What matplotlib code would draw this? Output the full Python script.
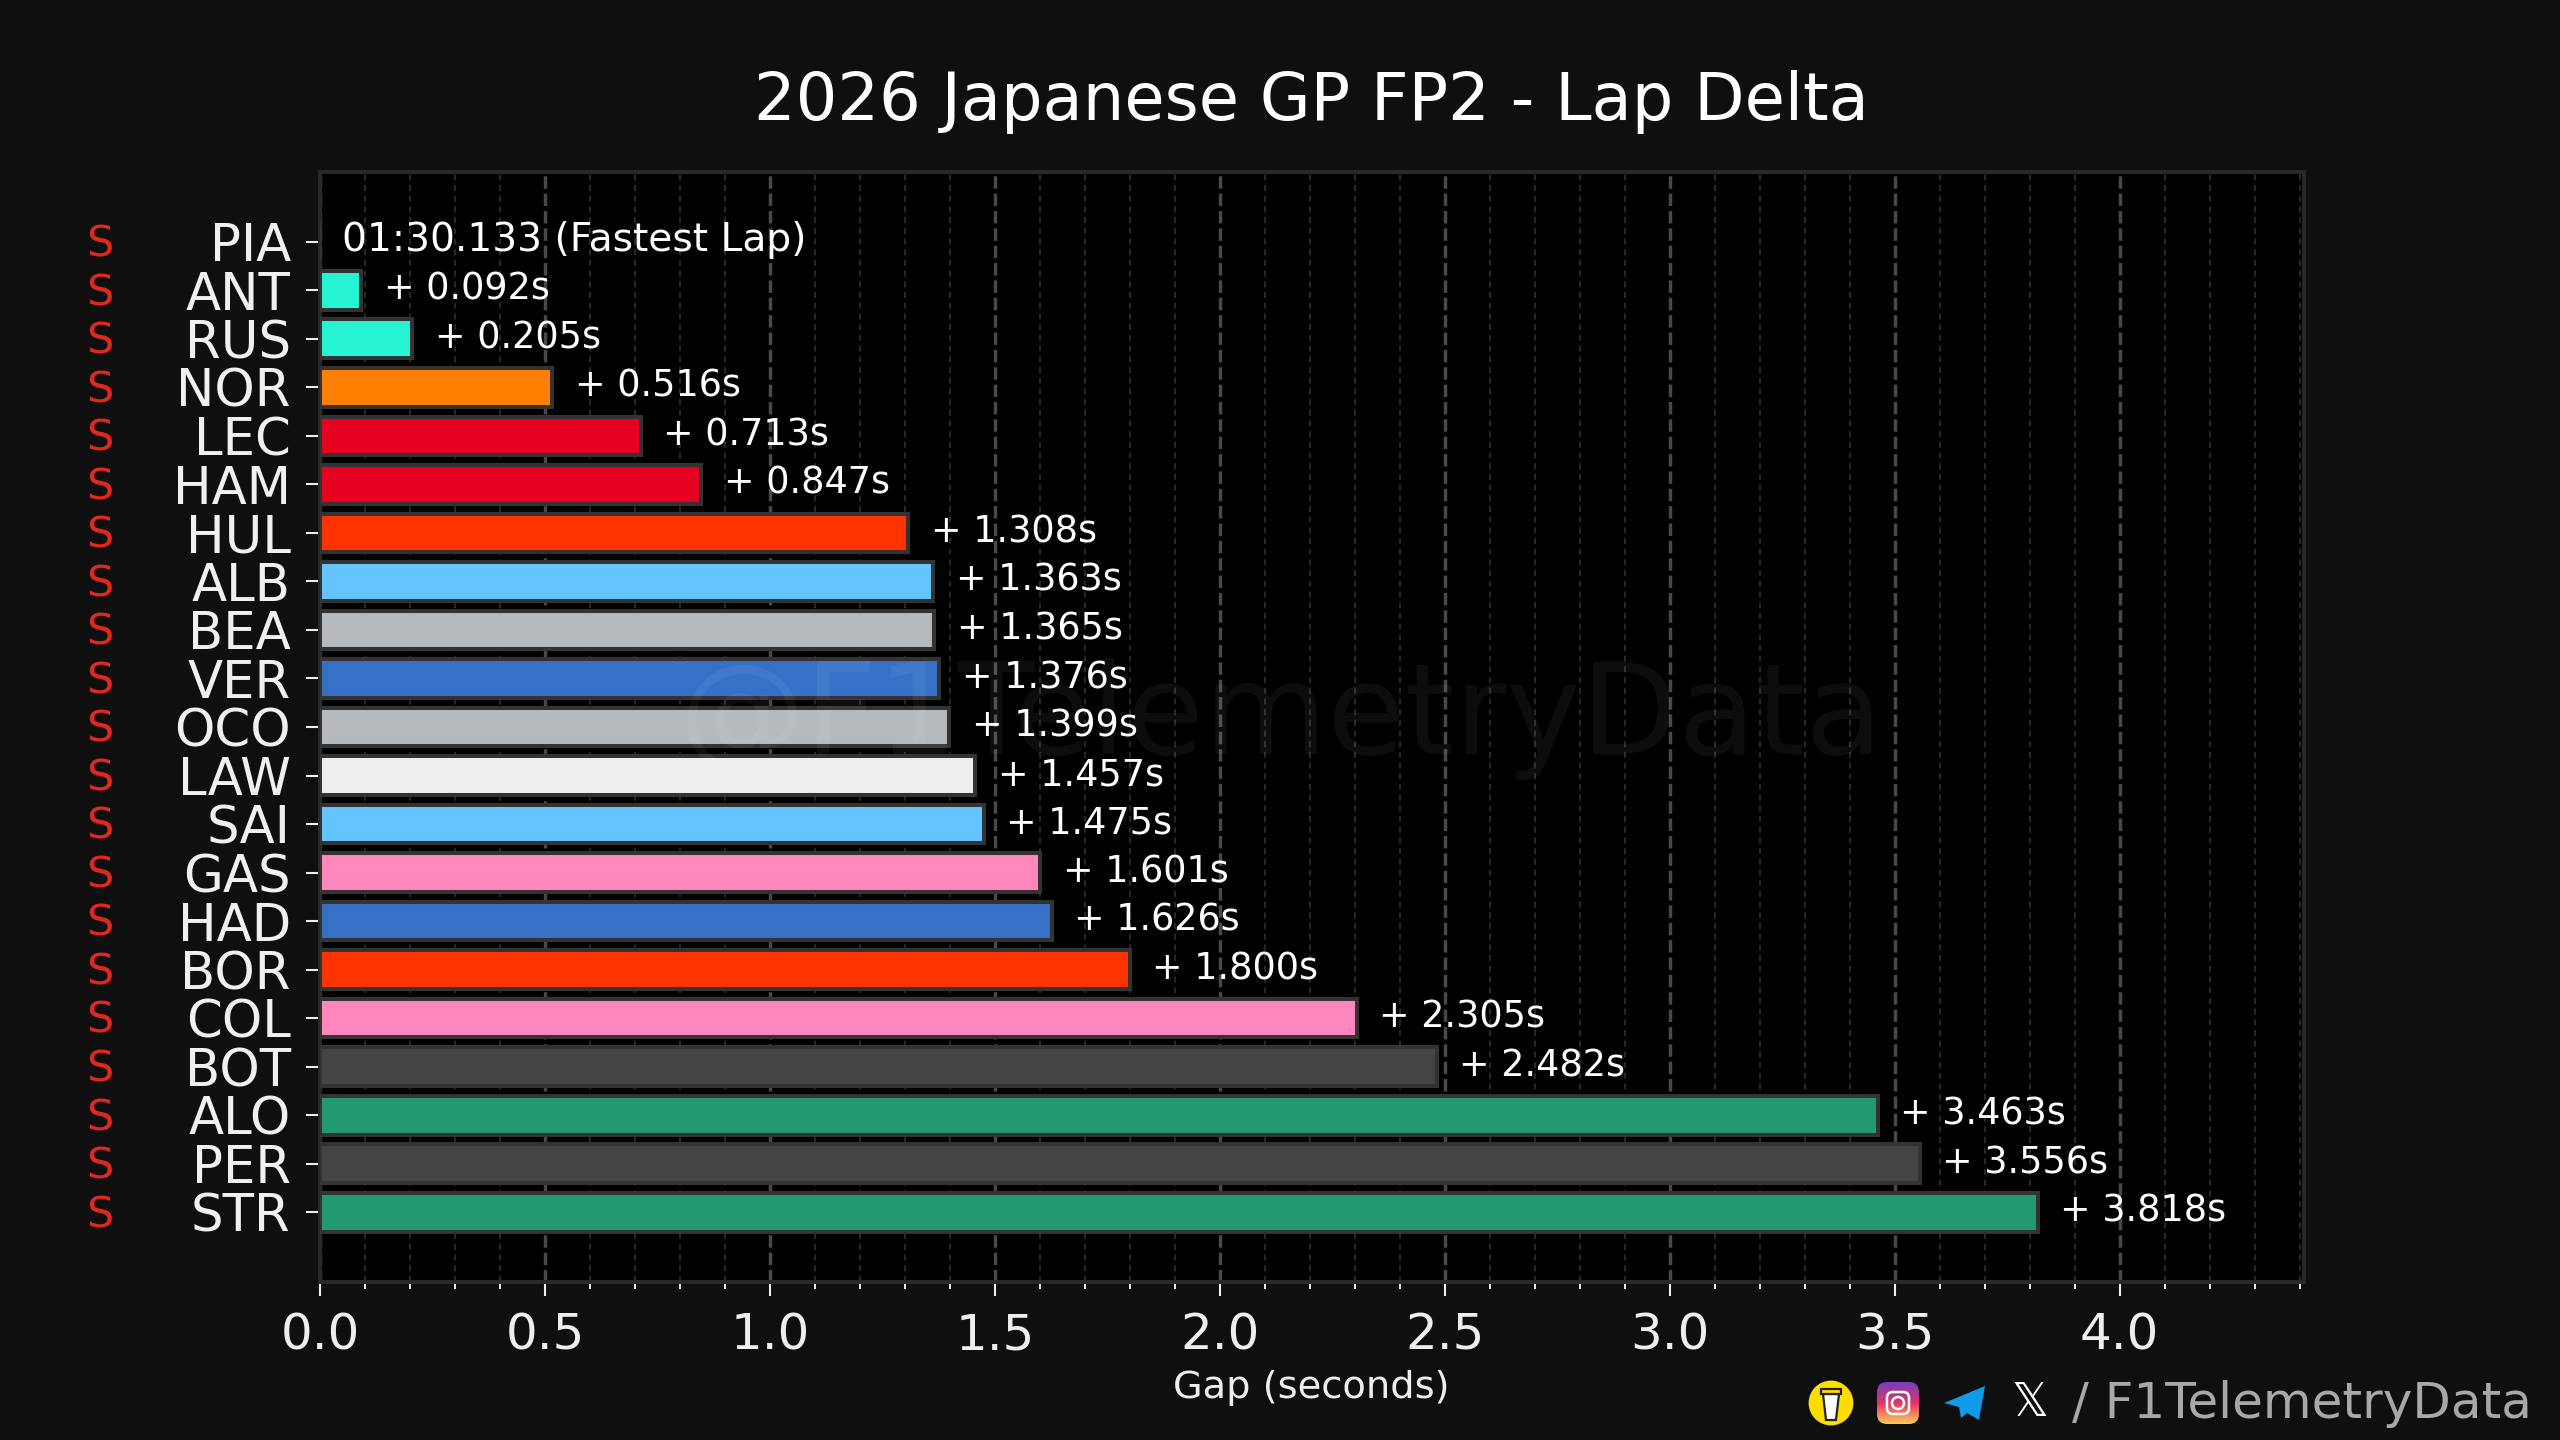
import numpy as np
import matplotlib
matplotlib.use('Agg')
import matplotlib.pyplot as plt
from matplotlib.patches import Circle, FancyBboxPatch, Polygon, Rectangle
from matplotlib.ticker import MultipleLocator

drivers = ['PIA', 'ANT', 'RUS', 'NOR', 'LEC', 'HAM', 'HUL', 'ALB', 'BEA', 'VER', 'OCO',
           'LAW', 'SAI', 'GAS', 'HAD', 'BOR', 'COL', 'BOT', 'ALO', 'PER', 'STR']
gaps = [0.0, 0.092, 0.205, 0.516, 0.713, 0.847, 1.308, 1.363, 1.365, 1.376, 1.399,
        1.457, 1.475, 1.601, 1.626, 1.800, 2.305, 2.482, 3.463, 3.556, 3.818]
colors = ['#FF8000', '#27F4D2', '#27F4D2', '#FF8000', '#E80020', '#E80020', '#FF3300',
          '#64C4FF', '#B6BABD', '#3671C6', '#B6BABD', '#EEEEEE', '#64C4FF', '#FF87BC',
          '#3671C6', '#FF3300', '#FF87BC', '#444444', '#229971', '#444444', '#229971']
compounds = ['S'] * 21
fastest_lap = '01:30.133 (Fastest Lap)'
title = '2026 Japanese GP FP2 - Lap Delta'

plt.rcParams['font.family'] = ['DejaVu Sans']
bg = '#0f0f0f'
W, H = 2560, 1440

fig = plt.figure(figsize=(12.8, 7.2), dpi=200, facecolor=bg)
ax = fig.add_axes([320/W, 1-1282/H, (2304-320)/W, (1282-172)/H], facecolor='black')

y = np.arange(len(drivers))
ax.barh(y, gaps, height=0.8, color=colors, edgecolor='#333333', linewidth=1.45, zorder=3)

ax.set_xlim(0, 4.41)
ax.set_ylim(len(drivers)-1+1.44, -1.44)
ax.xaxis.set_major_locator(MultipleLocator(0.5))
ax.xaxis.set_minor_locator(MultipleLocator(0.1))
ax.set_yticks(y)
ax.set_yticklabels(drivers, fontsize=18.5, color='#f0f0f0')
ax.tick_params(axis='y', length=5, width=0.75, color='#eeeeee', pad=5.5)
ax.tick_params(axis='x', which='major', length=5, width=0.75, color='#eeeeee',
               labelsize=18, labelcolor='#eeeeee', pad=5.5)
ax.tick_params(axis='x', which='minor', length=2.6, width=0.7, color='#eeeeee')
ax.grid(axis='x', which='major', color='#484848', linewidth=1.25, linestyle=(0, (3.6, 1.4)), zorder=1)
ax.grid(axis='x', which='minor', color='#333333', linewidth=0.55, linestyle=(0, (4, 3)), zorder=1)
for s in ax.spines.values():
    s.set_color('#2a2a2a')
    s.set_linewidth(1.4)

for i, (g, c) in enumerate(zip(gaps, compounds)):
    if i == 0:
        ax.text(0.05, i-0.03, fastest_lap, color='white', fontsize=14.1, va='center', zorder=5)
    else:
        ax.text(g+0.05, i-0.02, '+ {:.3f}s'.format(g), color='white', fontsize=13.2, va='center', zorder=5)
    ax.text(-0.49, i+0.06, c, color='#e0281e', fontsize=15.5, ha='center', va='center', clip_on=False)

fig.text(1311/W, 1-102/H, title, color='white', fontsize=23.6, ha='center', va='center')
fig.text(1311/W, 1-1388/H, 'Gap (seconds)', color='#eeeeee', fontsize=13.8, ha='center', va='center')

# overlay in pixel coords for watermark + footer
ov = fig.add_axes([0, 0, 1, 1], facecolor='none')
ov.set_xlim(0, W)
ov.set_ylim(H, 0)
ov.axis('off')

ov.text(1281, 719, '@F1TelemetryData', color='white', alpha=0.055, fontsize=45.5, ha='center', va='center')
ov.text(2532, 1404, '/ F1TelemetryData', color='#a8a8a8', fontsize=18, ha='right', va='center')
ov.text(2030, 1403, '\U0001D54F', color='white', fontsize=16.5, ha='center', va='center')

# buy me a coffee
ov.add_patch(Circle((1831, 1403), 21, color='#FFDD00', zorder=2))
ov.add_patch(Polygon([(1823, 1394), (1839, 1394), (1836, 1420), (1826, 1420)], fc='white', ec='#222222', lw=0.8, zorder=3))
ov.add_patch(Rectangle((1821, 1389), 20, 5, fc='#FFDD00', ec='#222222', lw=0.8, zorder=3))

# instagram
grad = np.linspace(0, 1, 64)[:, None]
low = np.array([0.45, 0.25, 0.75])
mid = np.array([0.90, 0.20, 0.40])
high = np.array([1.0, 0.80, 0.35])
rows = np.where(grad < 0.5, low + (mid-low)*grad*2, mid + (high-mid)*(grad-0.5)*2)
img = ov.imshow(rows[:, None, :], extent=(1877, 1919, 1424, 1382), origin='upper', aspect='auto', zorder=2)
clip = FancyBboxPatch((1882, 1387), 32, 32, boxstyle='round,pad=5,rounding_size=10', transform=ov.transData, fc='none', ec='none')
ov.add_patch(clip)
img.set_clip_path(clip)
ov.add_patch(FancyBboxPatch((1887, 1392), 22, 22, boxstyle='round,pad=0,rounding_size=6', fc='none', ec='white', lw=0.9, zorder=3))
ov.add_patch(Circle((1898, 1403), 6, fc='none', ec='white', lw=0.9, zorder=3))

# telegram plane
ov.add_patch(Polygon([(1985, 1386), (1944, 1403), (1959, 1407), (1961, 1418), (1967, 1413), (1979, 1420)], fc='#0F9BE8', ec='none', zorder=3))

ov.set_xlim(0, W)
ov.set_ylim(H, 0)
fig.savefig('out.png', dpi=200, facecolor=bg)
